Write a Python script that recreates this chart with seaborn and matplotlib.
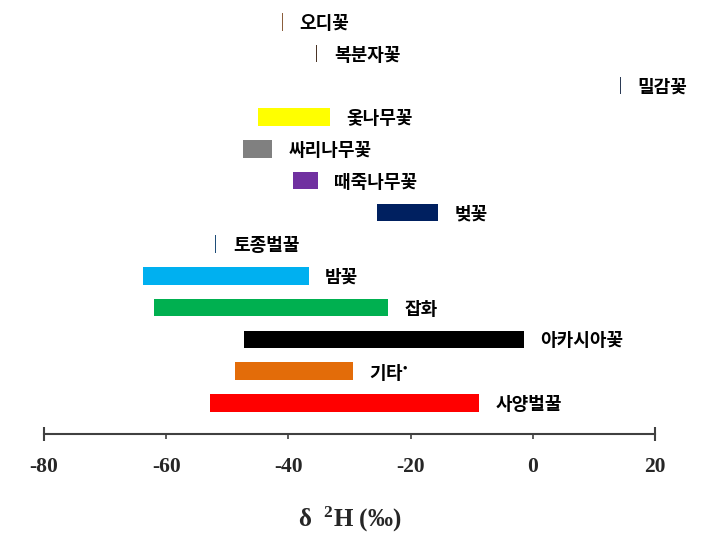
import matplotlib
matplotlib.use("Agg")
import matplotlib.pyplot as plt
import seaborn as sns
import numpy as np
import pandas as pd

# ---- data ----
honey_types = ["오디꽃", "복분자꽃", "밀감꽃", "옻나무꽃", "싸리나무꽃", "때죽나무꽃",
               "벚꽃", "토종벌꿀", "밤꽃", "잡화", "아카시아꽃", "기타$^{\\bullet}$", "사양벌꿀"]
range_low = [-41.1, -35.5, 14.2, -45.0, -47.5, -39.3, -25.5, -52.0, -63.8, -62.0, -47.3, -48.8, -52.9]
range_high = [-41.1, -35.5, 14.2, -33.2, -42.6, -35.2, -15.5, -52.0, -36.7, -23.7, -1.5, -29.5, -8.8]
x_ticks = [-80, -60, -40, -20, 0, 20]

bar_colors = ["#8B5E3C", "#4A3426", "#2B3A55", "#FFFF00", "#808080", "#7030A0",
              "#002060", "#1F4E79", "#00B0F0", "#00B050", "#000000", "#E36C09", "#FF0000"]

df = pd.DataFrame({"type": honey_types, "low": range_low, "high": range_high})

sns.set_theme(style="white")
plt.rcParams["axes.unicode_minus"] = False
plt.rcParams["mathtext.default"] = "regular"

fig = plt.figure(figsize=(7.08, 5.41), dpi=100)
ax = fig.add_axes([0.0621, 0.1978, 0.8630, 0.7985])

ypos = np.arange(len(df))
min_w = 0.22
widths = np.maximum(df["high"].values - df["low"].values, min_w)
ax.barh(ypos, widths, left=df["low"].values, height=0.55, color=bar_colors, linewidth=0)

for i, row in df.iterrows():
    end = max(row["high"], row["low"] + min_w)
    ax.annotate(row["type"], xy=(end, i), xytext=(12, -1), textcoords="offset points",
                ha="left", va="center", fontsize=13, fontweight="heavy",
                family="Noto Sans CJK KR", color="black")

ax.set_xlim(-80, 20)
ax.set_ylim(12.98, -0.63)
ax.set_yticks([])
ax.set_xticks(x_ticks)
ax.set_xticklabels([str(t) for t in x_ticks], fontfamily="Liberation Serif",
                   fontweight="bold", fontsize=15.5)
ax.tick_params(axis="x", direction="out", length=3.6, width=1.2, color="#404040",
               pad=13, bottom=True)

for s in ["left", "top", "right"]:
    ax.spines[s].set_visible(False)
ax.spines["bottom"].set_color("#404040")
ax.spines["bottom"].set_linewidth(1.5)

ticks = ax.xaxis.get_major_ticks()
for t in (ticks[0], ticks[-1]):
    t.tick1line.set_marker("|")
    t.tick1line.set_markersize(9.5)
    t.tick1line.set_markeredgewidth(1.5)

ax.set_xlabel("δ  $^{2}$H (‰)", fontfamily="Liberation Serif", fontweight="bold",
              fontsize=18, labelpad=20)

fig.savefig("out.png", dpi=100)
